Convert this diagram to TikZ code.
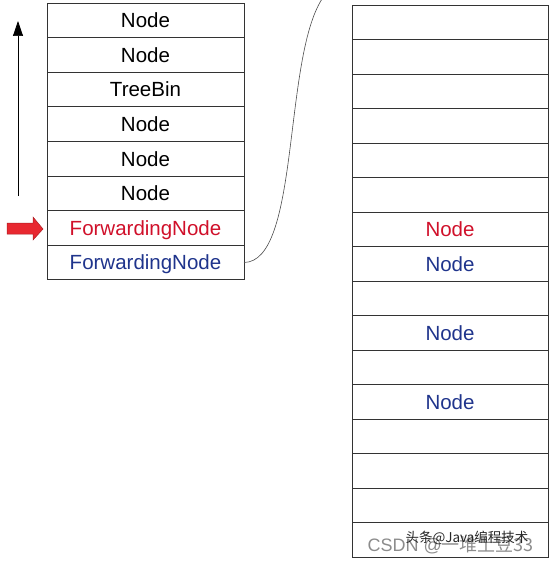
\documentclass[tikz,border=0pt]{standalone}
\usepackage{fontspec}
\setmainfont{Liberation Sans}
\newfontfamily\cjk{Noto Sans CJK SC}
\usetikzlibrary{arrows.meta}
\definecolor{fwdred}{RGB}{208,16,42}
\definecolor{fwdblue}{RGB}{31,52,140}
\definecolor{arrred}{RGB}{232,40,48}
\definecolor{arrdark}{RGB}{170,30,35}
\tikzset{
  celltext/.style={font=\fontsize{20.5}{24}\selectfont, text height=14.7pt, text depth=0pt},
  cell/.style={draw=black!80, line width=0.8pt, minimum width=197pt, minimum height=34.6pt,
    inner sep=0pt, outer sep=0pt, celltext},
  rcell/.style={cell, minimum width=196pt, minimum height=34.5pt},
}
\begin{document}
\begin{tikzpicture}[x=1pt,y=-1pt]
\useasboundingbox (0,0) rectangle (556,564);
% left table
\foreach \t [count=\i] in {Node,Node,TreeBin,Node,Node,Node} {
  \node[cell] (l\i) at (145.5, {3+34.6*(\i-0.5)}) {\t};
}
\node[cell, text=fwdred] (l7) at (145.5, {3+34.6*6.5}) {ForwardingNode};
\node[cell, text=fwdblue] (l8) at (145.5, {3+34.6*7.5}) {ForwardingNode};
% right table
\foreach \i in {1,...,16} {
  \node[rcell] (r\i) at (450, {5+34.5*(\i-0.5)}) {};
}
\node[celltext, text=fwdred] (t7) at (r7) {Node};
\node[celltext, text=fwdblue] (t8) at (r8) {Node};
\node[celltext, text=fwdblue] (t10) at (r10) {Node};
\node[celltext, text=fwdblue] (t12) at (r12) {Node};
% curve
\coordinate (ctop) at (322,-1);
\draw[black!70, line width=0.6pt] (l8.east) .. controls (300,262) and (283,60) .. (ctop);
% vertical arrow
\coordinate (va) at (18,196);
\coordinate (vb) at (18,21);
\draw[line width=0.7pt, -{Triangle[length=15pt,width=10pt]}] (va) -- (vb);
% red block arrow
\draw[fill=arrred, draw=arrdark, line width=0.5pt]
  (7,223) -- (33,223) -- (33,217) -- (43,229) -- (33,240) -- (33,234) -- (7,234) -- cycle;
% watermark
\node[text=black!45, font=\fontsize{18}{20}\selectfont, anchor=west] (wm1) at (364,545) {CSDN @\cjk 一堆土豆33};
\node[text=black!85, font=\cjk\fontsize{13.5}{15}\selectfont, anchor=west] (wm2) at (402,538) {头条@Java编程技术};
\end{tikzpicture}
\end{document}
